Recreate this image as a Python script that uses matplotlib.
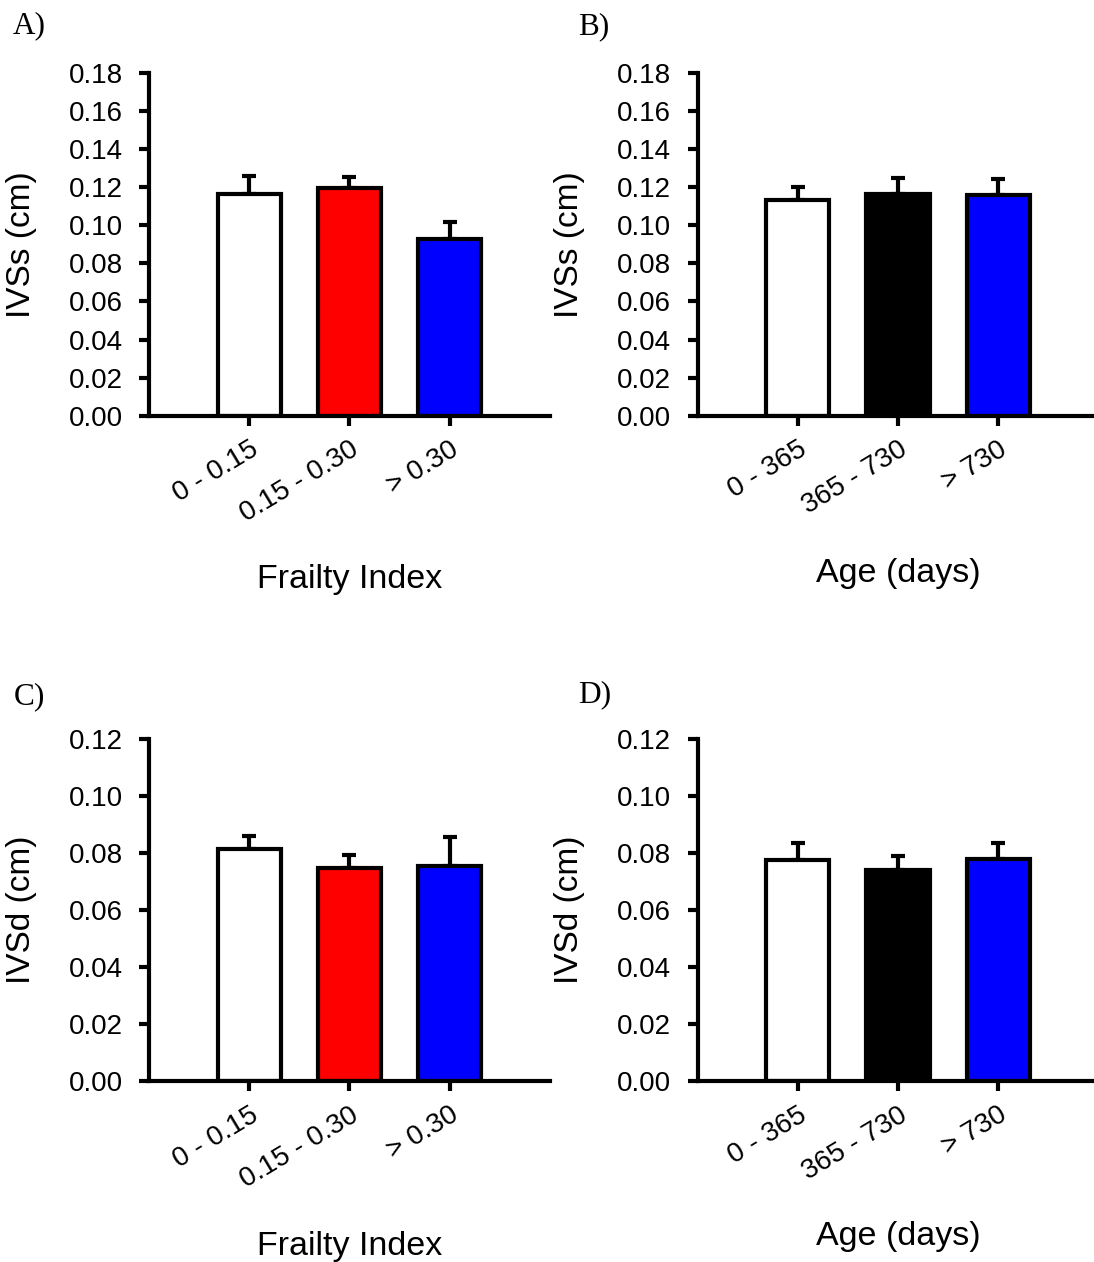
## Import libraries
import matplotlib
matplotlib.use("Agg")
import matplotlib.pyplot as plt
import numpy as np

## Group labels for the two groupings.
fiLabels = ["0 - 0.15", "0.15 - 0.30", "> 0.30"]
ageLabels = ["0 - 365", "365 - 730", "> 730"]

## IVSs (cm) means and SEM.
ivssFi = [0.1166, 0.1197, 0.0925]
ivssFiErr = [0.0091, 0.0054, 0.0094]
ivssAge = [0.1132, 0.1166, 0.1156]
ivssAgeErr = [0.0071, 0.0081, 0.0085]

## IVSd (cm) means and SEM.
ivsdFi = [0.0814, 0.0745, 0.0752]
ivsdFiErr = [0.0046, 0.0047, 0.0105]
ivsdAge = [0.0776, 0.0738, 0.0779]
ivsdAgeErr = [0.0058, 0.0049, 0.0055]

fiColors = ["white", "#ff0000", "#0000ff"]
ageColors = ["white", "black", "#0000ff"]

plt.rcParams['font.family'] = ['Liberation Sans', 'DejaVu Sans']

fig = plt.figure(figsize=(10.94, 12.62), dpi=100)


def barPanel(rect, values, errors, labels, colors, ymax, ylabel, xlabel, xlabelY, letter, letterXY):
    """ Draws one bar panel with upper error bars. """
    ax = fig.add_axes(rect)
    x = np.arange(len(values))
    ax.errorbar(x, values, yerr=[np.zeros(len(errors)), errors], fmt='none',
                ecolor='black', elinewidth=3, capsize=5, capthick=3, zorder=1)
    ax.bar(x, values, width=0.63, color=colors, edgecolor='black', linewidth=3, zorder=2)

    ax.set_xlim(-1, 3)
    ax.set_ylim(0, ymax)
    ticks = np.arange(0, ymax + 0.001, 0.02)
    ax.set_yticks(ticks)
    ax.set_yticklabels([f"{v:.2f}" for v in ticks])
    ax.set_xticks(x)
    ax.set_xticklabels(labels, rotation=31, ha='right', va='top', rotation_mode='anchor')

    for side in ['top', 'right']:
        ax.spines[side].set_visible(False)
    for side in ['left', 'bottom']:
        ax.spines[side].set_linewidth(3)
    ax.tick_params(axis='both', width=3, length=7, labelsize=20)
    ax.tick_params(axis='y', pad=12)
    ax.tick_params(axis='x', pad=8)

    ax.set_ylabel(ylabel, fontsize=24)
    ax.yaxis.set_label_coords(-0.28, 0.5)
    ax.set_xlabel(xlabel, fontsize=24.5, va='baseline')
    ax.xaxis.set_label_coords(0.5, xlabelY)

    fig.text(letterXY[0], letterXY[1], letter, fontsize=22.5,
             family=['Liberation Serif', 'DejaVu Serif'], va='baseline')
    return ax


barPanel([0.1362, 0.6706, 0.3665, 0.2717], ivssFi, ivssFiErr, fiLabels, fiColors,
         0.18, "IVSs (cm)", "Frailty Index", -0.502, "A)", (13 / 1094, 1 - 33 / 1262))
barPanel([0.6376, 0.6706, 0.3665, 0.2717], ivssAge, ivssAgeErr, ageLabels, ageColors,
         0.18, "IVSs (cm)", "Age (days)", -0.485, "B)", (578 / 1094, 1 - 34 / 1262))
barPanel([0.1362, 0.1434, 0.3665, 0.2713], ivsdFi, ivsdFiErr, fiLabels, fiColors,
         0.12, "IVSd (cm)", "Frailty Index", -0.507, "C)", (14 / 1094, 1 - 704 / 1262))
barPanel([0.6376, 0.1434, 0.3665, 0.2713], ivsdAge, ivsdAgeErr, ageLabels, ageColors,
         0.12, "IVSd (cm)", "Age (days)", -0.479, "D)", (578 / 1094, 1 - 702 / 1262))

fig.savefig("out.png", dpi=100)
